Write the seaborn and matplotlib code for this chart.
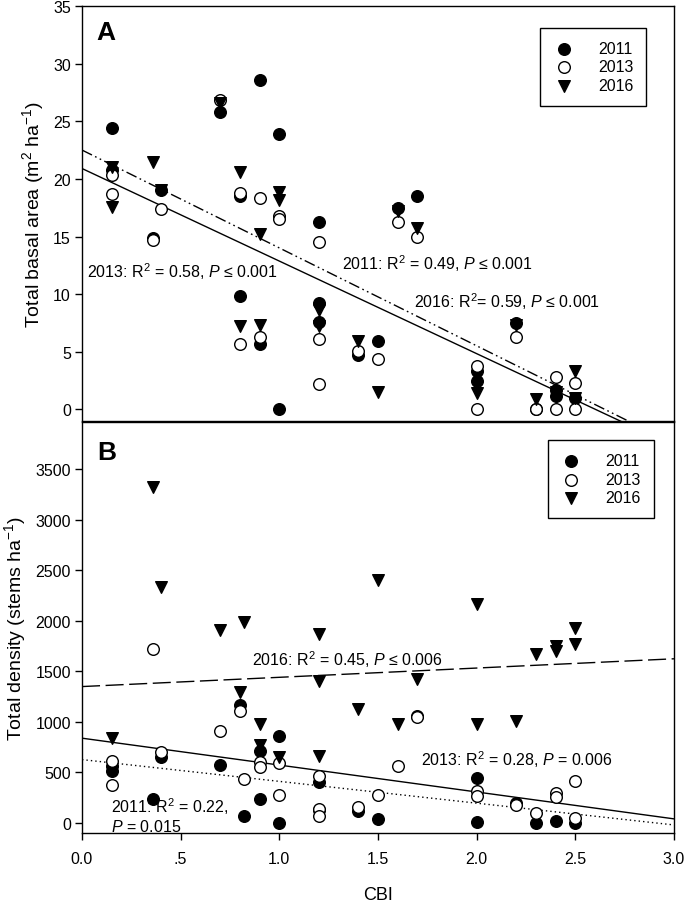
import numpy as np
import pandas as pd
import matplotlib.pyplot as plt
import seaborn as sns

# ---- panel A: total basal area (m2/ha) by CBI ----
cbi_a_2011 = [0.15, 0.15, 0.36, 0.40, 0.70, 0.80, 0.80, 0.90, 0.90, 1.00, 1.00, 1.20, 1.20, 1.20,
              1.40, 1.50, 1.60, 1.70, 2.00, 2.00, 2.20, 2.30, 2.40, 2.40, 2.50]
ba_2011 = [24.4, 20.8, 14.9, 19.0, 25.8, 18.5, 9.8, 28.6, 5.7, 23.9, 0.0, 16.3, 9.2, 7.6,
           4.7, 5.9, 17.5, 18.5, 3.3, 2.5, 7.5, 0.0, 1.7, 1.2, 1.0]
cbi_a_2013 = [0.15, 0.15, 0.36, 0.40, 0.70, 0.80, 0.80, 0.90, 0.90, 1.00, 1.00, 1.20, 1.20, 1.20,
              1.40, 1.50, 1.60, 1.70, 2.00, 2.00, 2.20, 2.30, 2.40, 2.40, 2.50, 2.50]
ba_2013 = [20.3, 18.7, 14.7, 17.4, 26.8, 18.8, 5.7, 18.3, 6.3, 16.8, 16.5, 14.5, 6.1, 2.2,
           5.1, 4.4, 16.3, 15.0, 3.8, 0.0, 6.3, 0.0, 2.8, 0.0, 2.3, 0.0]
cbi_a_2016 = [0.15, 0.15, 0.36, 0.40, 0.70, 0.80, 0.80, 0.90, 0.90, 1.00, 1.00, 1.20, 1.20,
              1.40, 1.50, 1.60, 1.70, 2.00, 2.20, 2.30, 2.40, 2.50, 2.50]
ba_2016 = [21.0, 17.6, 21.5, 19.0, 26.6, 20.6, 7.2, 15.2, 7.3, 18.9, 18.2, 8.6, 7.2,
           5.9, 1.5, 17.2, 15.7, 1.4, 7.3, 0.9, 1.5, 3.3, 1.0]

# ---- panel B: total density (stems/ha) by CBI ----
cbi_b_2011 = [0.15, 0.15, 0.36, 0.40, 0.70, 0.80, 0.82, 0.90, 0.90, 1.00, 1.00, 1.20, 1.20,
              1.40, 1.50, 1.70, 2.00, 2.00, 2.20, 2.30, 2.40, 2.50]
dens_2011 = [567, 518, 238, 650, 577, 1171, 73, 716, 238, 858, 0, 406, 130,
             122, 40, 1060, 442, 13, 198, 0, 17, 0]
cbi_b_2013 = [0.15, 0.15, 0.36, 0.40, 0.70, 0.80, 0.82, 0.90, 0.90, 1.00, 1.00, 1.20, 1.20, 1.20,
              1.40, 1.50, 1.60, 1.70, 2.00, 2.00, 2.20, 2.30, 2.40, 2.40, 2.50, 2.50]
dens_2013 = [617, 379, 1723, 700, 914, 1112, 436, 601, 552, 595, 277, 465, 139, 73,
             161, 280, 561, 1046, 320, 264, 180, 99, 297, 258, 419, 46]
cbi_b_2016 = [0.15, 0.36, 0.40, 0.70, 0.80, 0.82, 0.90, 0.90, 1.00, 1.20, 1.20, 1.20,
              1.40, 1.50, 1.60, 1.70, 2.00, 2.00, 2.20, 2.30, 2.40, 2.40, 2.50, 2.50]
dens_2016 = [839, 3323, 2334, 1911, 1297, 1987, 980, 772, 650, 1871, 1409, 667,
             1129, 2409, 980, 1426, 2168, 980, 1013, 1673, 1755, 1706, 1928, 1772]

years = ["2011", "2013", "2016"]

# fitted lines: (intercept, slope)
fit_a_2013 = (20.9, -8.03)
fit_a_2011_2016 = (22.5, -8.49)
fit_b_2016 = (1350, 91.7)
fit_b_2013 = (839, -266.3)
fit_b_2011 = (627, -215.7)

x_ticks = [0.0, 0.5, 1.0, 1.5, 2.0, 2.5, 3.0]
x_tick_labels = ["0.0", ".5", "1.0", "1.5", "2.0", "2.5", "3.0"]

sns.set_theme(style="ticks")
plt.rcParams["font.family"] = ["Liberation Sans", "DejaVu Sans"]
plt.rcParams["mathtext.fontset"] = "custom"
plt.rcParams["mathtext.rm"] = "Liberation Sans"
plt.rcParams["mathtext.it"] = "Liberation Sans:italic"
plt.rcParams["axes.linewidth"] = 1.0
plt.rcParams["axes.edgecolor"] = "black"
plt.rcParams["text.color"] = "black"
plt.rcParams["axes.labelcolor"] = "black"
plt.rcParams["xtick.color"] = "black"
plt.rcParams["ytick.color"] = "black"

marker_style = {
    "2011": dict(marker="o", color="black", edgecolor="black"),
    "2013": dict(marker="o", color="white", edgecolor="black"),
    "2016": dict(marker="v", color="black", edgecolor="black"),
}


def long_frame(xs, ys):
    parts = []
    for yr, x, y in zip(years, xs, ys):
        parts.append(pd.DataFrame({"cbi": x, "value": y, "year": yr}))
    return pd.concat(parts, ignore_index=True)


df_a = long_frame([cbi_a_2011, cbi_a_2013, cbi_a_2016], [ba_2011, ba_2013, ba_2016])
df_b = long_frame([cbi_b_2011, cbi_b_2013, cbi_b_2016], [dens_2011, dens_2013, dens_2016])

fig = plt.figure(figsize=(6.85, 9.03), dpi=100)
ax_a = fig.add_axes([0.1197, 0.5327, 0.8642, 0.4596])
ax_b = fig.add_axes([0.1197, 0.0764, 0.8642, 0.4552])

for ax, df in [(ax_a, df_a), (ax_b, df_b)]:
    for yr in years:
        sns.scatterplot(data=df[df["year"] == yr], x="cbi", y="value", s=70,
                        linewidth=1.0, label=yr, ax=ax, zorder=3, **marker_style[yr])

xx = np.linspace(0, 3, 200)
ax_a.plot(xx, fit_a_2013[0] + fit_a_2013[1] * xx, color="black", lw=1.0)
ax_a.plot(xx, fit_a_2011_2016[0] + fit_a_2011_2016[1] * xx, color="black", lw=1.0,
          linestyle=(0, (8, 2.5, 1.2, 2.5, 1.2, 2.5)))
ax_b.plot(xx, fit_b_2016[0] + fit_b_2016[1] * xx, color="black", lw=1.0,
          linestyle=(0, (13, 4)))
ax_b.plot(xx, fit_b_2013[0] + fit_b_2013[1] * xx, color="black", lw=1.0)
ax_b.plot(xx, fit_b_2011[0] + fit_b_2011[1] * xx, color="black", lw=1.0,
          linestyle=(0, (1, 2.2)))

fs = 11.5
ax_a.text(0.024, 12.0, "2013: R$^2$ = 0.58, $P$ ≤ 0.001", fontsize=fs, va="center")
ax_a.text(1.316, 12.75, "2011: R$^2$ = 0.49, $P$ ≤ 0.001", fontsize=fs, va="center")
ax_a.text(1.684, 9.4, "2016: R$^2$= 0.59, $P$ ≤ 0.001", fontsize=fs, va="center")
ax_b.text(0.86, 1624, "2016: R$^2$ = 0.45, $P$ ≤ 0.006", fontsize=fs, va="center")
ax_b.text(1.72, 634, "2013: R$^2$ = 0.28, $P$ = 0.006", fontsize=fs, va="center")
ax_b.text(0.147, 86, "2011: R$^2$ = 0.22,\n$P$ = 0.015", fontsize=fs, va="center",
          linespacing=1.15)

ax_a.text(0.025, 0.967, "A", transform=ax_a.transAxes, fontsize=19, fontweight="bold",
          va="top", ha="left")
ax_b.text(0.025, 0.955, "B", transform=ax_b.transAxes, fontsize=19, fontweight="bold",
          va="top", ha="left")

ax_a.set_xlim(0, 3)
ax_a.set_ylim(-1, 35)
ax_a.set_yticks(np.arange(0, 36, 5))
ax_a.set_xticks([])
ax_a.set_xlabel("")
ax_a.set_ylabel("Total basal area (m$^2$ ha$^{-1}$)", fontsize=14, labelpad=5)

ax_b.set_xlim(0, 3)
ax_b.set_ylim(-100, 3970)
ax_b.set_yticks(np.arange(0, 3501, 500))
ax_b.set_xticks(x_ticks)
ax_b.set_xticklabels(x_tick_labels)
ax_b.set_xlabel("CBI", fontsize=13, labelpad=14)
ax_b.set_ylabel("Total density (stems ha$^{-1}$)", fontsize=14, labelpad=5)

for ax in (ax_a, ax_b):
    for side in ["top", "right", "left", "bottom"]:
        ax.spines[side].set_visible(True)
        ax.spines[side].set_color("black")
        ax.spines[side].set_linewidth(1.0)
    ax.tick_params(axis="both", direction="out", length=5, width=1.0, labelsize=11.5,
                   colors="black", pad=3)
    ax.tick_params(axis="x", pad=8)

leg_kw = dict(frameon=True, fancybox=False, edgecolor="black", framealpha=1,
              fontsize=11.5, borderpad=0.8, labelspacing=0.22, handlelength=1.3,
              handletextpad=1.5, borderaxespad=0)
leg_a = ax_a.legend(loc="upper right", bbox_to_anchor=(0.953, 0.947), **leg_kw)
leg_b = ax_b.legend(loc="upper right", bbox_to_anchor=(0.966, 0.955), **leg_kw)
for leg in (leg_a, leg_b):
    leg.get_frame().set_linewidth(1.0)

fig.savefig("out.png", dpi=100)
